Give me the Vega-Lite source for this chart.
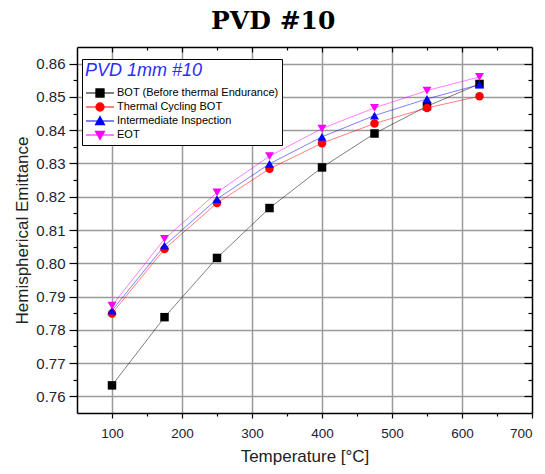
{
  "$schema": "https://vega.github.io/schema/vega-lite/v6.json",
  "width": 455,
  "height": 366,
  "autosize": "none",
  "padding": {"left": 77, "top": 47, "right": 13, "bottom": 61},
  "background": "white",
  "title": {"text": "PVD #10", "font": "DejaVu Serif", "fontSize": 25, "fontWeight": "bold", "anchor": "middle", "frame": "bounds", "offset": 12, "color": "black"},
  "config": {
    "view": {"stroke": null},
    "font": "Liberation Sans",
    "axis": {"domainColor": "black", "domainWidth": 1.5, "tickColor": "black", "tickWidth": 1.2, "gridColor": "#9a9a9a", "gridWidth": 1.5, "labelColor": "#222233", "titleColor": "#222222", "titleFontWeight": "normal", "labelFont": "Liberation Sans", "titleFont": "Liberation Sans"},
    "legend": {"orient": "none", "legendX": 5, "legendY": 12, "titleFont": "Liberation Sans", "titleFontStyle": "italic", "titleFontWeight": "normal", "titleFontSize": 18, "titleColor": "#2b2bff", "titlePadding": 6,
      "strokeColor": "black", "fillColor": "white", "padding": 3, "labelFontSize": 11, "labelColor": "black", "labelOffset": 2, "symbolSize": 784, "clipHeight": 14, "rowPadding": 0, "labelLimit": 300, "symbolOpacity": 1, "symbolStrokeWidth": 1.2}
  },
  "datasets": {
    "pts": [
      {"series": "BOT (Before thermal Endurance)", "T": 100, "E": 0.7633},
      {"series": "BOT (Before thermal Endurance)", "T": 175, "E": 0.7838},
      {"series": "BOT (Before thermal Endurance)", "T": 250, "E": 0.8016},
      {"series": "BOT (Before thermal Endurance)", "T": 325, "E": 0.8166},
      {"series": "BOT (Before thermal Endurance)", "T": 400, "E": 0.8288},
      {"series": "BOT (Before thermal Endurance)", "T": 475, "E": 0.8390},
      {"series": "BOT (Before thermal Endurance)", "T": 550, "E": 0.8472},
      {"series": "BOT (Before thermal Endurance)", "T": 625, "E": 0.8539},
      {"series": "Thermal Cycling BOT", "T": 100, "E": 0.7849},
      {"series": "Thermal Cycling BOT", "T": 175, "E": 0.8043},
      {"series": "Thermal Cycling BOT", "T": 250, "E": 0.8181},
      {"series": "Thermal Cycling BOT", "T": 325, "E": 0.8284},
      {"series": "Thermal Cycling BOT", "T": 400, "E": 0.8361},
      {"series": "Thermal Cycling BOT", "T": 475, "E": 0.8420},
      {"series": "Thermal Cycling BOT", "T": 550, "E": 0.8467},
      {"series": "Thermal Cycling BOT", "T": 625, "E": 0.8502},
      {"series": "Intermediate Inspection", "T": 100, "E": 0.7858},
      {"series": "Intermediate Inspection", "T": 175, "E": 0.8053},
      {"series": "Intermediate Inspection", "T": 250, "E": 0.8193},
      {"series": "Intermediate Inspection", "T": 325, "E": 0.8299},
      {"series": "Intermediate Inspection", "T": 400, "E": 0.8380},
      {"series": "Intermediate Inspection", "T": 475, "E": 0.8444},
      {"series": "Intermediate Inspection", "T": 550, "E": 0.8494},
      {"series": "Intermediate Inspection", "T": 625, "E": 0.8537},
      {"series": "EOT", "T": 100, "E": 0.7873},
      {"series": "EOT", "T": 175, "E": 0.8073},
      {"series": "EOT", "T": 250, "E": 0.8213},
      {"series": "EOT", "T": 325, "E": 0.8322},
      {"series": "EOT", "T": 400, "E": 0.8405},
      {"series": "EOT", "T": 475, "E": 0.8467},
      {"series": "EOT", "T": 550, "E": 0.8519},
      {"series": "EOT", "T": 625, "E": 0.8560}
    ]
  },
  "data": {"name": "pts"},
  "encoding": {
    "color": {"field": "series", "type": "nominal",
      "legend": {"title": "PVD 1mm #10",
        "encode": {"symbols": {"update": {
          "shape": {"signal": "datum.value === 'BOT (Before thermal Endurance)' ? 'M-1,0H1M-0.29,-0.29H0.29V0.29H-0.29Z' : datum.value === 'Thermal Cycling BOT' ? 'M-1,0H1M-0.29,0A0.29,0.29 0 1,1 0.29,0A0.29,0.29 0 1,1 -0.29,0Z' : datum.value === 'Intermediate Inspection' ? 'M-1,0H1M0,-0.32L0.32,0.26L-0.32,0.26Z' : 'M-1,0H1M0,0.32L0.32,-0.26L-0.32,-0.26Z'"},
          "stroke": {"signal": "datum.value === 'BOT (Before thermal Endurance)' ? '#000000' : datum.value === 'Thermal Cycling BOT' ? '#ff0000' : datum.value === 'Intermediate Inspection' ? '#0000ff' : '#ff00ff'"},
          "fill": {"signal": "datum.value === 'BOT (Before thermal Endurance)' ? '#000000' : datum.value === 'Thermal Cycling BOT' ? '#ff0000' : datum.value === 'Intermediate Inspection' ? '#0000ff' : '#ff00ff'"},
          "opacity": {"value": 1},
          "strokeWidth": {"value": 1.2}
        }}}},
      "scale": {"domain": ["BOT (Before thermal Endurance)", "Thermal Cycling BOT", "Intermediate Inspection", "EOT"], "range": ["#000000", "#ff0000", "#0000ff", "#ff00ff"]}}
  },
  "layer": [
    {
      "mark": {"type": "line", "strokeWidth": 1, "opacity": 0.5},
      "encoding": {
        "x": {"field": "T", "type": "quantitative", "scale": {"domain": [50, 700], "nice": false, "zero": false},
          "axis": {"orient": "bottom", "title": "Temperature [°C]", "titleFontSize": 17, "titlePadding": 9, "labelFontSize": 13.5, "labelPadding": 8,
            "values": [100, 150, 200, 250, 300, 350, 400, 450, 500, 550, 600, 650, 700],
            "labelExpr": "datum.value % 100 === 0 ? datum.label : ''",
            "tickSize": {"condition": {"test": "datum.value % 100 === 0", "value": 5}, "value": 3},
            "gridOpacity": {"condition": {"test": "datum.value % 100 === 0 && datum.value < 700", "value": 1}, "value": 0}}},
        "y": {"field": "E", "type": "quantitative", "scale": {"domain": [0.755, 0.865], "nice": false, "zero": false},
          "axis": {"orient": "left", "title": "Hemispherical Emittance", "titleFontSize": 17, "titlePadding": 4, "labelFontSize": 15, "labelPadding": 4,
            "values": [0.76, 0.765, 0.77, 0.775, 0.78, 0.785, 0.79, 0.795, 0.8, 0.805, 0.81, 0.815, 0.82, 0.825, 0.83, 0.835, 0.84, 0.845, 0.85, 0.855, 0.86],
            "labelExpr": "round(datum.value*1000) % 10 === 0 ? format(datum.value, '.2f') : ''",
            "tickSize": {"condition": {"test": "round(datum.value*1000) % 10 === 0", "value": 8}, "value": 4},
            "gridOpacity": {"condition": {"test": "round(datum.value*1000) % 10 === 0", "value": 1}, "value": 0}}},
        "detail": {"field": "series"}
      }
    },
    {
      "transform": [{"filter": "datum.series === 'BOT (Before thermal Endurance)'"}],
      "mark": {"type": "point", "filled": true, "size": 72, "opacity": 1, "shape": "square"},
      "encoding": {
        "x": {"field": "T", "type": "quantitative",
          "axis": {"orient": "top", "title": null, "labels": false, "grid": false,
            "values": [100, 150, 200, 250, 300, 350, 400, 450, 500, 550, 600, 650],
            "tickSize": {"condition": {"test": "datum.value % 100 === 0", "value": -5}, "value": -3}}},
        "y": {"field": "E", "type": "quantitative",
          "axis": {"orient": "right", "title": null, "labels": false, "grid": false,
            "values": [0.76, 0.765, 0.77, 0.775, 0.78, 0.785, 0.79, 0.795, 0.8, 0.805, 0.81, 0.815, 0.82, 0.825, 0.83, 0.835, 0.84, 0.845, 0.85, 0.855, 0.86],
            "tickSize": {"condition": {"test": "round(datum.value*1000) % 10 === 0", "value": -8}, "value": -4}}}
      }
    },
    {
      "transform": [{"filter": "datum.series === 'Thermal Cycling BOT'"}],
      "mark": {"type": "point", "filled": true, "size": 72, "opacity": 1, "shape": "circle"},
      "encoding": {
        "x": {"field": "T", "type": "quantitative", "axis": null},
        "y": {"field": "E", "type": "quantitative", "axis": null}
      }
    },
    {
      "transform": [{"filter": "datum.series === 'Intermediate Inspection'"}],
      "mark": {"type": "point", "filled": true, "size": 80, "opacity": 1, "shape": "triangle-up"},
      "encoding": {
        "x": {"field": "T", "type": "quantitative", "axis": null},
        "y": {"field": "E", "type": "quantitative", "axis": null}
      }
    },
    {
      "transform": [{"filter": "datum.series === 'EOT'"}],
      "mark": {"type": "point", "filled": true, "size": 80, "opacity": 1, "shape": "triangle-down"},
      "encoding": {
        "x": {"field": "T", "type": "quantitative", "axis": null},
        "y": {"field": "E", "type": "quantitative", "axis": null}
      }
    }
  ],
  "resolve": {"axis": {"x": "independent", "y": "independent"}}
}
